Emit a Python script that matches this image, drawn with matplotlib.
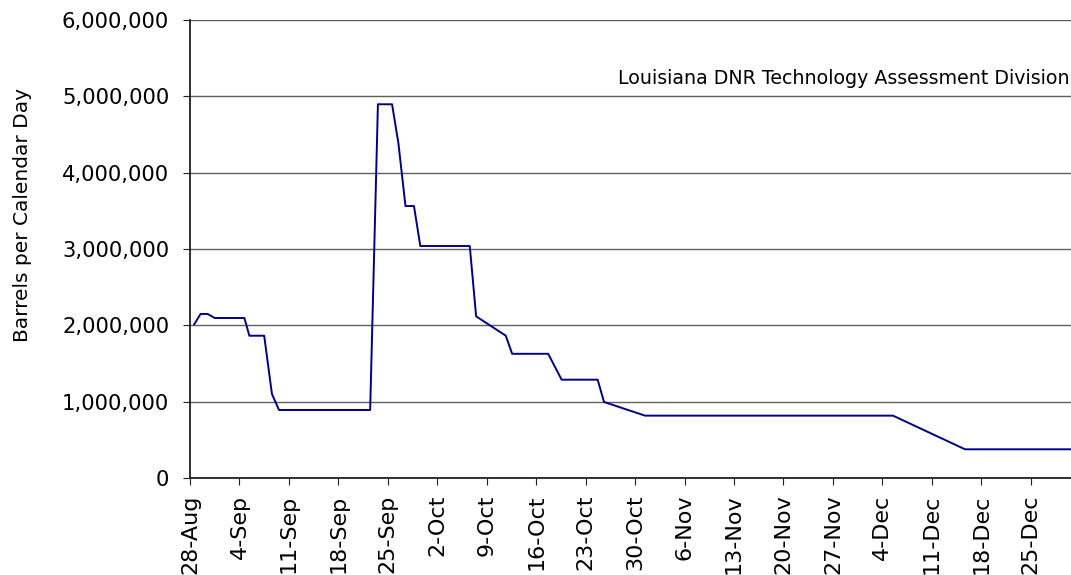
import matplotlib
matplotlib.use("Agg")
import matplotlib.pyplot as plt
from matplotlib.ticker import FuncFormatter

plt.rcParams['font.family'] = ['DejaVu Sans']

# days since 28-Aug (2005)
days = [0.6, 1.5, 2.5, 3.5, 7.7, 8.4, 10.5, 11.6, 12.6, 25.5, 26.6, 28.6, 29.5,
        30.5, 31.7, 32.6, 39.6, 40.5, 44.7, 45.6, 50.7, 52.6, 57.7, 58.6, 64.4,
        99.5, 109.7, 124.7]
# barrels per calendar day
barrels = [2014000, 2149000, 2149000, 2096000, 2096000, 1864000, 1864000, 1100000,
           891000, 891000, 4896000, 4896000, 4385000, 3563000, 3563000, 3039000,
           3039000, 2118000, 1864000, 1627000, 1627000, 1288000, 1288000, 996000,
           817000, 817000, 376000, 376000]

tick_days = list(range(0, 120, 7))
tick_labels = ["28-Aug", "4-Sep", "11-Sep", "18-Sep", "25-Sep", "2-Oct", "9-Oct",
               "16-Oct", "23-Oct", "30-Oct", "6-Nov", "13-Nov", "20-Nov", "27-Nov",
               "4-Dec", "11-Dec", "18-Dec", "25-Dec"]

fig = plt.figure(figsize=(10.71, 5.75), dpi=100)
ax = fig.add_axes([190 / 1071, 1 - 478 / 575, 881 / 1071, 458 / 575])

ax.plot(days, barrels, color="#000080", lw=1.4)

ax.set_xlim(0, 124.7)
ax.set_ylim(0, 6000000)
ax.set_yticks(range(0, 6000001, 1000000))
ax.yaxis.set_major_formatter(FuncFormatter(lambda v, p: "{:,.0f}".format(v)))
ax.set_xticks(tick_days)
ax.set_xticklabels(tick_labels, rotation=90)

ax.grid(axis="y", color="#606060", lw=1)
ax.set_axisbelow(True)
for s in ["top", "right"]:
    ax.spines[s].set_visible(False)
for s in ["left", "bottom"]:
    ax.spines[s].set_color("#202020")
    ax.spines[s].set_linewidth(1.3)

ax.tick_params(axis="y", labelsize=15.2, color="#202020", length=5, pad=10)
ax.tick_params(axis="x", labelsize=16, color="#202020", length=5, pad=7)

fig.text(23 / 1071, 1 - 215 / 575, "Barrels per Calendar Day", rotation=90,
         ha="center", va="center", fontsize=14.5)

ax.text(0.998, 0.872, "Louisiana DNR Technology Assessment Division",
        transform=ax.transAxes, ha="right", va="center", fontsize=13.7)

fig.savefig("out.png", dpi=100)
